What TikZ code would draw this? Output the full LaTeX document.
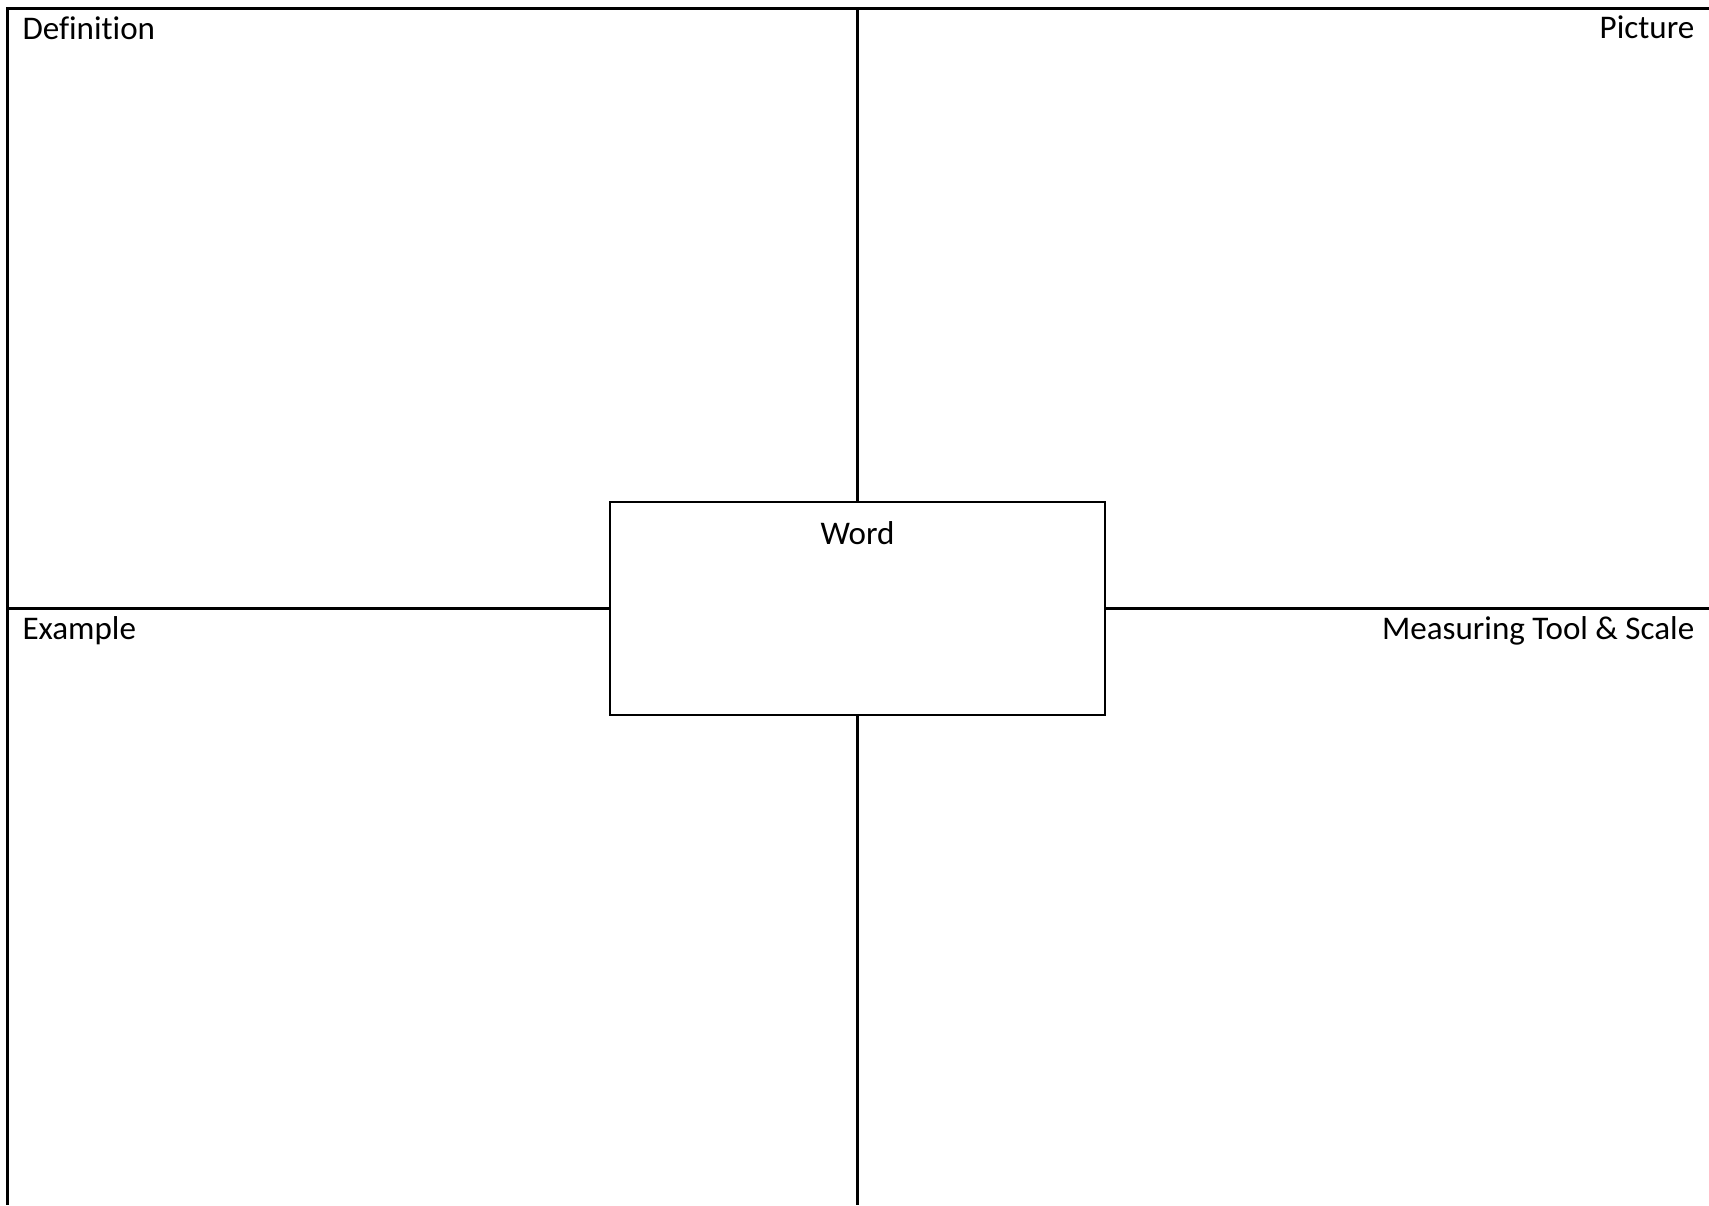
\documentclass[tikz,border=0pt]{standalone}
\usepackage{fontspec}
\setmainfont[Ligatures=NoCommon]{Carlito}
\usepackage{tikz}
\usetikzlibrary{positioning}
\tikzset{
  frame/.style={line width=0.75pt, draw=black},
  wordbox/.style={frame, minimum width=4.95cm, minimum height=2.13cm,
                  inner sep=0pt, fill=white},
  lbl/.style={inner sep=0pt, font=\fontsize{9.4}{11}\selectfont, text=black},
}
\begin{document}
\begin{tikzpicture}[x=0.01cm, y=-0.01cm]
  \useasboundingbox (0,0) rectangle (1709,1205);
  % outer frame corners
  \coordinate (tl) at (7.6,8.7);
  \coordinate (tr) at (1709,8.7);
  \coordinate (bl) at (7.6,1205);
  \coordinate (br) at (1709,1205);
  % centre box
  \node[wordbox] (word) at (857.5,608.5) {};
  \node[lbl, anchor=base] (wordlbl) at ([yshift=-4.4mm]word.north) {Word};
  % quadrant labels
  \node[lbl, anchor=base west] (def) at (21.8,39) {Definition};
  \node[lbl, anchor=base east] (pic) at (1695,38) {Picture};
  \node[lbl, anchor=base west] (ex) at (21.8,639) {Example};
  \node[lbl, anchor=base east] (meas) at (1695,639) {Measuring Tool \& Scale};
  % dividers
  \draw[frame] (tr) -- (tl) -- (bl);
  \draw[frame] (word.north |- tl) -- (word.north);
  \draw[frame] (word.south) -- (word.south |- bl);
  \draw[frame] (word.west -| tl) -- (word.west);
  \draw[frame] (word.east) -- (word.east -| br);
\end{tikzpicture}
\end{document}
